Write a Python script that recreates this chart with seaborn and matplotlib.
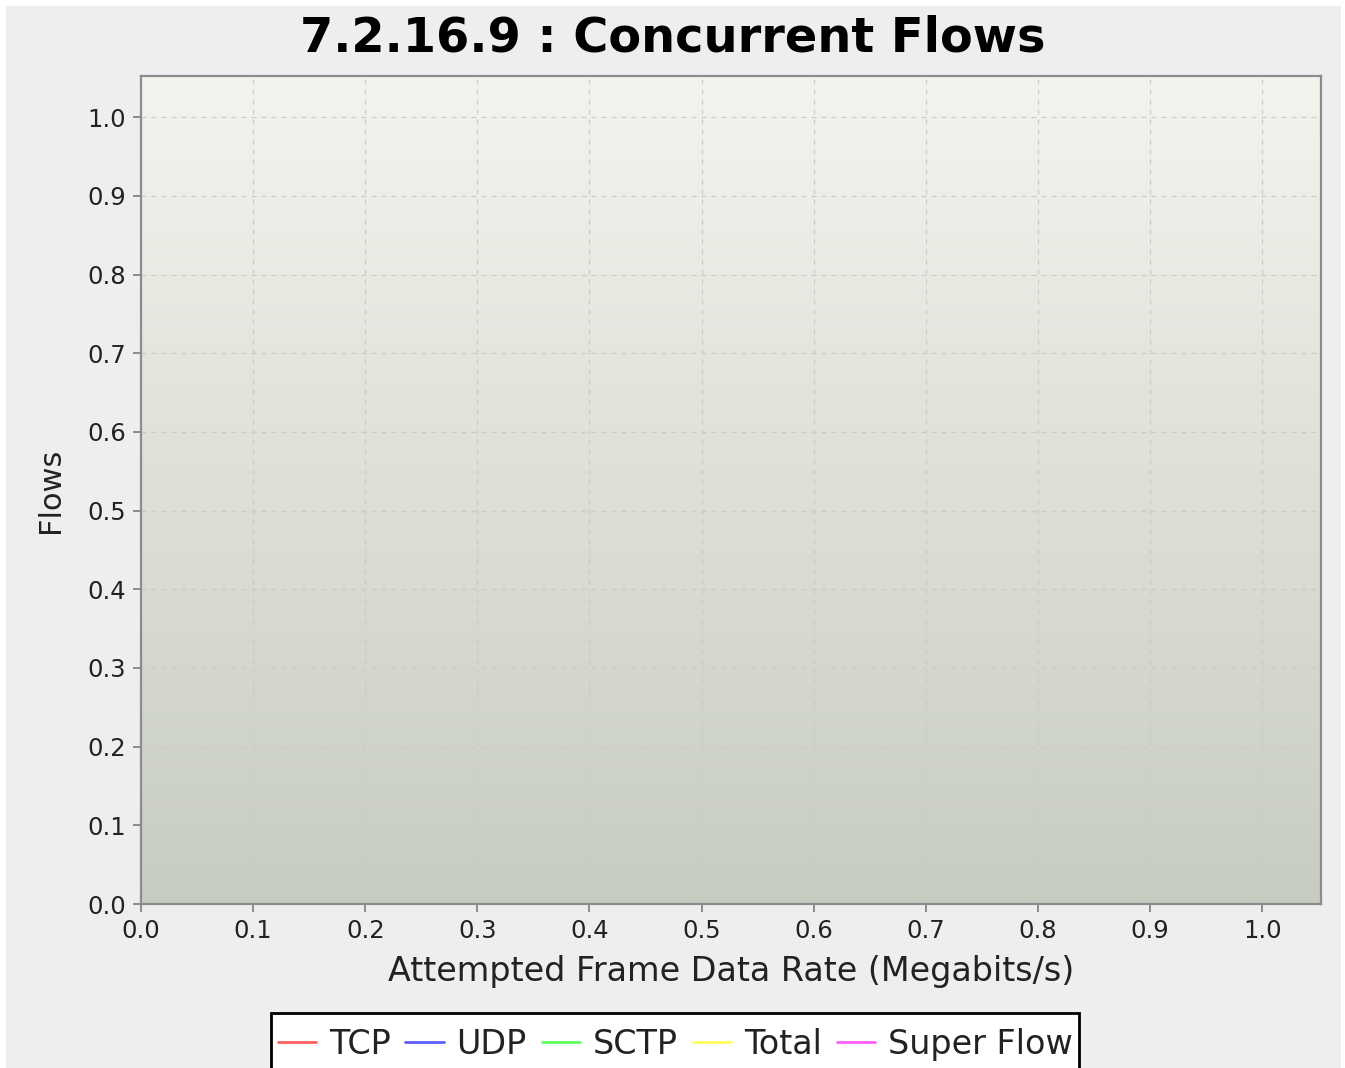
import numpy as np
import pandas as pd
import matplotlib
matplotlib.use("Agg")
import matplotlib.pyplot as plt
from matplotlib.patches import Rectangle
import seaborn as sns

# Series shown in the legend (no samples were recorded for this test)
series_names = ["TCP", "UDP", "SCTP", "Total", "Super Flow"]
series_colors = ["#ff5f5f", "#5f5fff", "#5fff5f", "#ffff5f", "#ff5fff"]
rate_mbps = []          # attempted frame data rate samples
flow_values = {name: [] for name in series_names}

x_ticks = [round(0.1 * i, 1) for i in range(11)]
y_ticks = [round(0.1 * i, 1) for i in range(11)]
axis_max = 1.0525

sns.set_theme(style="ticks")
plt.rcParams["font.family"] = ["DejaVu Sans"]

W, H = 1345, 1068
fig = plt.figure(figsize=(W / 100, H / 100), dpi=100, facecolor="white")
# grey chart panel inside a thin white border
fig.patches.append(Rectangle((6 / W, 0), (1341 - 6) / W, (H - 6) / H,
                             transform=fig.transFigure, facecolor="#eeeeee",
                             edgecolor="none", zorder=-10))

ax = fig.add_axes([141 / W, (H - 904) / H, (1321 - 141) / W, (904 - 76) / H])

# vertical gradient plot background
top = np.array([243, 244, 238]) / 255
bot = np.array([199, 204, 192]) / 255
t = np.linspace(0, 1, 256)[:, None]
grad = (top * (1 - t) + bot * t)[:, None, :]
ax.imshow(grad, extent=[0, 1, 0, 1], transform=ax.transAxes,
          aspect="auto", zorder=0, interpolation="bicubic")

# draw each series (empty) through the axes
for name, color in zip(series_names, series_colors):
    df = pd.DataFrame({"rate": pd.Series(rate_mbps, dtype=float),
                       "flows": pd.Series(flow_values[name], dtype=float)})
    ax.plot(df["rate"], df["flows"], color=color, lw=2, label=name)

ax.set_xlim(0, axis_max)
ax.set_ylim(0, axis_max)
ax.set_xticks(x_ticks)
ax.set_yticks(y_ticks)
ax.set_xticklabels([f"{v:.1f}" for v in x_ticks])
ax.set_yticklabels([f"{v:.1f}" for v in y_ticks])

ax.grid(True, color="#cbcbcb", lw=0.9, linestyle=(0, (4, 4)))
for s in ax.spines.values():
    s.set_color("#8c8c8c")
    s.set_linewidth(1.6)
ax.tick_params(axis="both", direction="out", length=5.5, width=1.4,
               color="#8c8c8c", labelsize=17.5, labelcolor="#222222", pad=5)

ax.set_xlabel("Attempted Frame Data Rate (Megabits/s)", fontsize=24,
              color="#222222", labelpad=9)
ax.set_ylabel("Flows", fontsize=22, color="#222222", labelpad=16)

fig.text(673 / W, 1 - 38 / H, "7.2.16.9 : Concurrent Flows", ha="center",
         va="center", fontsize=34.5, fontweight="bold", color="black")

LEG_FS = 24
leg = fig.legend(loc="upper center", bbox_to_anchor=(675 / W, 1 - 1013 / H),
                 ncol=5, fontsize=LEG_FS, frameon=True, fancybox=False,
                 handlelength=1.15, handleheight=1.8, handletextpad=0.38,
                 columnspacing=0.45, borderpad=0.2, borderaxespad=0)
leg.get_frame().set_edgecolor("black")
leg.get_frame().set_linewidth(2)
leg.get_frame().set_facecolor("white")
leg.get_frame().set_alpha(1)
for txt in leg.get_texts():
    txt.set_color("#222222")
# keep the key lines level with the middle of the capital letters
for line in leg.get_lines():
    line.set_ydata(np.full(len(line.get_xdata()), 0.365 * LEG_FS))

fig.savefig("out.png", dpi=100, facecolor=fig.get_facecolor())
